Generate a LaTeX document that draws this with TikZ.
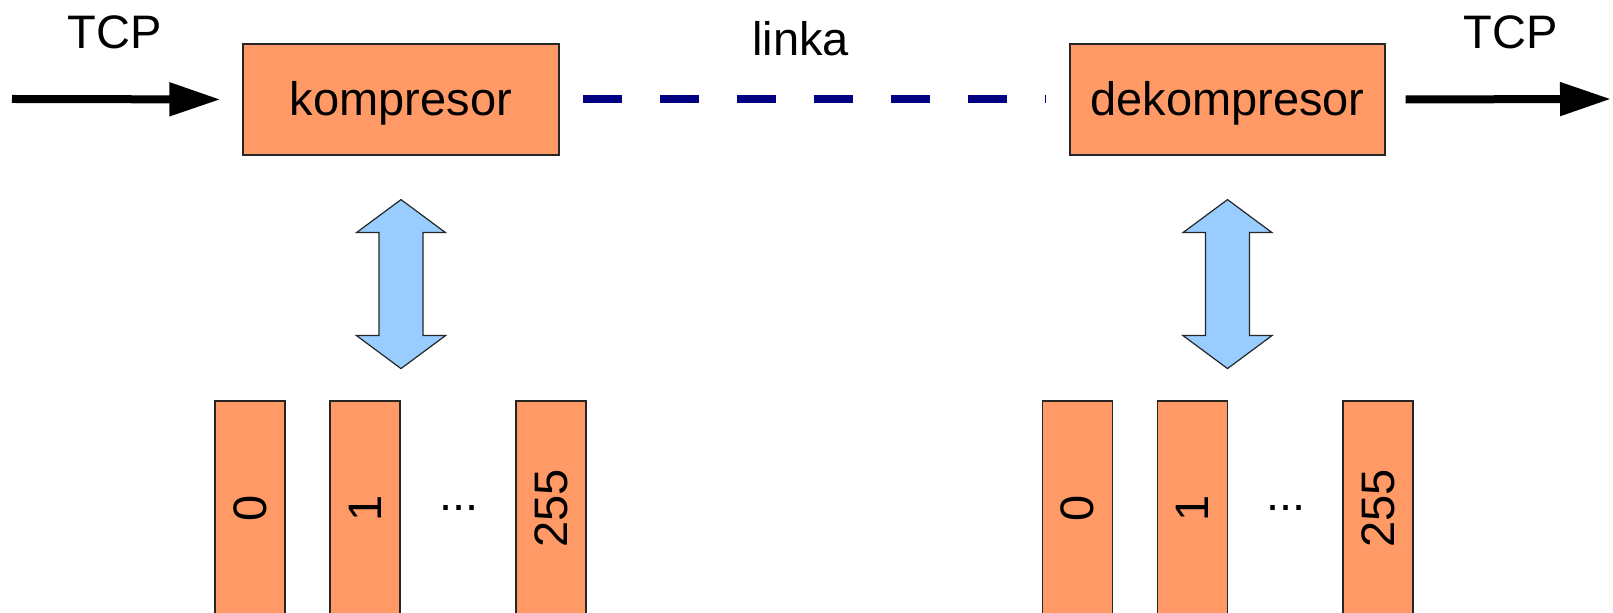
\documentclass[tikz,border=0pt]{standalone}
\usepackage{fontspec}
\setmainfont{Liberation Sans}
\usetikzlibrary{arrows.meta,calc}

\definecolor{boxorange}{HTML}{FF9966}
\definecolor{arrowblue}{HTML}{99CCFF}
\definecolor{linkblue}{HTML}{000080}

\tikzset{
	box/.style={draw=black!85, line width=0.6pt, fill=boxorange, minimum width=158pt, minimum height=55.5pt, inner sep=0pt, text height=17pt, text depth=0.5pt},
	slot/.style={draw=black!85, line width=0.6pt, fill=boxorange, rotate=90, minimum width=107.5pt, minimum height=35pt, inner sep=0pt},
	flow/.style={line width=4pt, -{Triangle[length=25.5pt,width=16pt]}},
	linka/.style={linkblue, line width=4pt, dash pattern=on 19.5pt off 19pt},
	blockarrow/.style={fill=arrowblue, draw=black!85, line width=0.6pt}
}

\begin{document}
\begin{tikzpicture}[x=0.5pt, y=-0.5pt, font=\fontsize{23.5}{28}\selectfont]
		\useasboundingbox (0,0) rectangle (1613,613);
		\node[box] (komp) at (401,99.5) {kompresor};
		\node[box, minimum width=157.5pt] (dekomp) at (1227.5,99.5) {dekompresor};
		\coordinate (in) at (12,99);
		\coordinate (out) at (1611,99);
		\node[anchor=base] (tcpin) at (114.5,49) {TCP};
		\node[anchor=base] (tcpout) at (1510.5,49) {TCP};
		\node[anchor=base] (lbl) at (800.5,56) {linka};
		
		\draw[flow, shorten >=11pt] (in) -- (komp.west);
		\draw[flow, shorten <=10pt] (dekomp.east) -- (out);
		\draw[linka, shorten <=11.5pt, shorten >=12pt] (komp.east) -- (dekomp.west);
		
		\foreach \n/\x/\t in {k0/250/0, k1/365/1, k255/551/255, d0/1077.5/0, d1/1192.5/1, d255/1378/255}
		\node[slot] (\n) at (\x,508.5) {\t};
		\node (kdots) at (459,508) {...};
		\node (ddots) at (1286,508) {...};
		
		\foreach \n in {komp,dekomp}
		\filldraw[blockarrow] ($(\n.south)+(0,44)$) -- ++(44.5,33) -- ++(-22.5,0) -- ++(0,103) -- ++(22.5,0) -- ++(-44.5,33) -- ++(-44.5,-33) -- ++(22.5,0) -- ++(0,-103) -- ++(-22.5,0) -- cycle;
\end{tikzpicture}
\end{document}
